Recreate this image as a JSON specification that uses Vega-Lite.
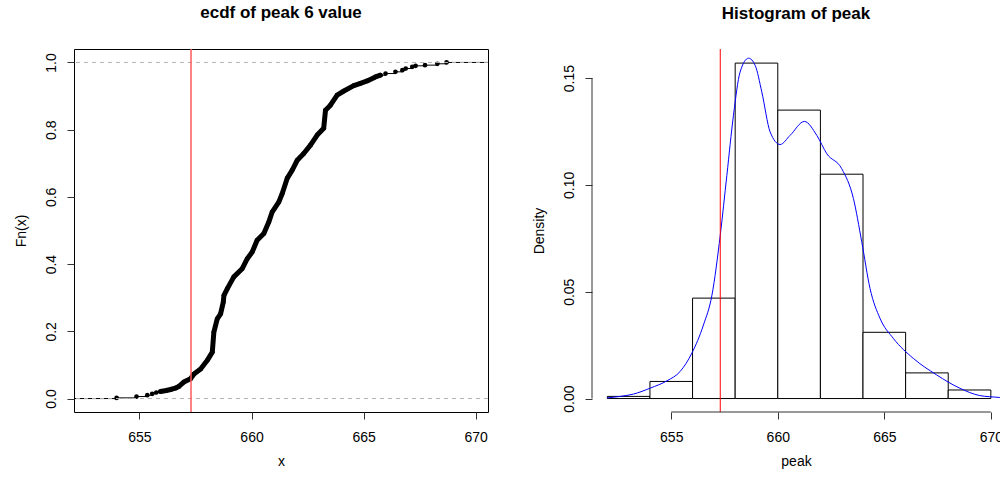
{
  "$schema": "https://vega.github.io/schema/vega-lite/v6.json",
  "padding": {"left": 13, "top": 3, "right": 0, "bottom": 0},
  "background": "white",
  "spacing": 43,
  "datasets": {
    "ecdf": [
      {"x": 653.98, "F": 0.002}, {"x": 654.87, "F": 0.006}, {"x": 655.35, "F": 0.010}, {"x": 655.57, "F": 0.014},
      {"x": 655.75, "F": 0.018}, {"x": 655.94, "F": 0.021}, {"x": 656.2, "F": 0.024}, {"x": 656.39, "F": 0.027},
      {"x": 656.6, "F": 0.031}, {"x": 656.76, "F": 0.036}, {"x": 656.98, "F": 0.049}, {"x": 657.28, "F": 0.059},
      {"x": 657.43, "F": 0.073}, {"x": 657.73, "F": 0.088}, {"x": 658.02, "F": 0.113}, {"x": 658.25, "F": 0.138},
      {"x": 658.32, "F": 0.198}, {"x": 658.47, "F": 0.237}, {"x": 658.62, "F": 0.252}, {"x": 658.74, "F": 0.287},
      {"x": 658.77, "F": 0.307}, {"x": 658.92, "F": 0.327}, {"x": 659.21, "F": 0.362}, {"x": 659.58, "F": 0.386},
      {"x": 659.81, "F": 0.416}, {"x": 660.03, "F": 0.436}, {"x": 660.25, "F": 0.471}, {"x": 660.55, "F": 0.491},
      {"x": 660.77, "F": 0.525}, {"x": 660.92, "F": 0.555}, {"x": 661.22, "F": 0.585}, {"x": 661.37, "F": 0.610},
      {"x": 661.59, "F": 0.655}, {"x": 661.81, "F": 0.679}, {"x": 662.04, "F": 0.709}, {"x": 662.33, "F": 0.729},
      {"x": 662.63, "F": 0.754}, {"x": 662.93, "F": 0.784}, {"x": 663.22, "F": 0.804}, {"x": 663.30, "F": 0.858},
      {"x": 663.52, "F": 0.873}, {"x": 663.82, "F": 0.903}, {"x": 664.12, "F": 0.915}, {"x": 664.56, "F": 0.931},
      {"x": 664.86, "F": 0.938}, {"x": 665.16, "F": 0.945}, {"x": 665.53, "F": 0.957}, {"x": 665.75, "F": 0.962},
      {"x": 665.98, "F": 0.967}, {"x": 666.42, "F": 0.972}, {"x": 666.73, "F": 0.977}, {"x": 666.88, "F": 0.982},
      {"x": 667.17, "F": 0.987}, {"x": 667.32, "F": 0.990}, {"x": 667.74, "F": 0.992}, {"x": 668.29, "F": 0.996},
      {"x": 668.70, "F": 1.0}
    ],
    "hist": [
      {"start": 652, "end": 654, "density": 0.001},
      {"start": 654, "end": 656, "density": 0.008},
      {"start": 656, "end": 658, "density": 0.047},
      {"start": 658, "end": 660, "density": 0.157},
      {"start": 660, "end": 662, "density": 0.135},
      {"start": 662, "end": 664, "density": 0.105},
      {"start": 664, "end": 666, "density": 0.031},
      {"start": 666, "end": 668, "density": 0.012},
      {"start": 668, "end": 670, "density": 0.004}
    ],
    "dens": [
      {"x": 651.99, "d": 0.0003}, {"x": 652.61, "d": 0.001}, {"x": 653.23, "d": 0.0021}, {"x": 654.02, "d": 0.0049},
      {"x": 654.80, "d": 0.0083}, {"x": 655.42, "d": 0.0127}, {"x": 655.97, "d": 0.0213}, {"x": 656.51, "d": 0.0344},
      {"x": 656.91, "d": 0.0484}, {"x": 657.30, "d": 0.0765}, {"x": 657.61, "d": 0.1045}, {"x": 657.92, "d": 0.1326},
      {"x": 658.23, "d": 0.1528}, {"x": 658.63, "d": 0.1593}, {"x": 658.94, "d": 0.1559}, {"x": 659.25, "d": 0.1435},
      {"x": 659.64, "d": 0.1248}, {"x": 660.11, "d": 0.1189}, {"x": 660.58, "d": 0.1232}, {"x": 661.25, "d": 0.1297},
      {"x": 661.83, "d": 0.1232}, {"x": 662.30, "d": 0.1146}, {"x": 663.0, "d": 0.1076}, {"x": 663.55, "d": 0.0936},
      {"x": 663.94, "d": 0.0734}, {"x": 664.33, "d": 0.0515}, {"x": 664.80, "d": 0.0375}, {"x": 665.42, "d": 0.0282},
      {"x": 666.36, "d": 0.0188}, {"x": 667.45, "d": 0.0111}, {"x": 668.55, "d": 0.0048}, {"x": 669.48, "d": 0.0014},
      {"x": 670.42, "d": 0.0005}, {"x": 670.75, "d": 0.0002}
    ],
    "hlines": [{"h": 0}, {"h": 1}]
  },
  "config": {
    "font": "Liberation Sans",
    "view": {"stroke": null},
    "axis": {
      "labelFont": "Liberation Sans", "titleFont": "Liberation Sans",
      "labelFontSize": 14, "titleFontSize": 14, "titleFontWeight": "normal",
      "labelColor": "black", "titleColor": "black",
      "tickColor": "#333", "tickSize": 7, "tickWidth": 1,
      "domain": false, "grid": false
    },
    "axisY": {"labelAngle": -90, "labelAlign": "center", "labelBaseline": "bottom", "labelPadding": 9, "titlePadding": 16},
    "axisX": {"labelPadding": 11, "titlePadding": 10},
    "title": {"fontSize": 17, "fontWeight": "bold", "font": "Liberation Sans", "color": "black", "offset": 26}
  },
  "hconcat": [
    {
      "width": 414,
      "height": 363,
      "view": {"stroke": "black", "strokeWidth": 1},
      "title": {"text": "ecdf of peak 6 value"},
      "layer": [
        {
          "data": {"name": "ecdf"},
          "transform": [{"filter": "datum.F <= 0.03"}],
          "mark": {"type": "line", "interpolate": "step-after", "color": "black", "strokeWidth": 1},
          "encoding": {
            "x": {"field": "x", "type": "quantitative", "title": "x",
                  "scale": {"domain": [652.08, 670.55], "nice": false, "zero": false},
                  "axis": {"values": [655, 660, 665, 670]}},
            "y": {"field": "F", "type": "quantitative", "title": "Fn(x)",
                  "scale": {"domain": [-0.04, 1.04], "nice": false, "zero": false},
                  "axis": {"values": [0, 0.2, 0.4, 0.6, 0.8, 1.0], "format": ".1f"}}
          }
        },
        {
          "data": {"name": "ecdf"},
          "transform": [{"filter": "datum.F >= 0.955"}],
          "mark": {"type": "line", "interpolate": "step-after", "color": "black", "strokeWidth": 1},
          "encoding": {
            "x": {"field": "x", "type": "quantitative"},
            "y": {"field": "F", "type": "quantitative"}
          }
        },
        {
          "data": {"name": "ecdf"},
          "transform": [{"filter": "datum.F >= 0.02 && datum.F <= 0.965"}],
          "mark": {"type": "line", "color": "black", "strokeWidth": 5, "strokeCap": "round", "strokeJoin": "round"},
          "encoding": {
            "x": {"field": "x", "type": "quantitative"},
            "y": {"field": "F", "type": "quantitative"}
          }
        },
        {
          "data": {"name": "ecdf"},
          "mark": {"type": "point", "filled": true, "color": "black", "size": 22, "opacity": 1},
          "encoding": {
            "x": {"field": "x", "type": "quantitative"},
            "y": {"field": "F", "type": "quantitative"}
          }
        },
        {
          "data": {"values": [{}]},
          "mark": {"type": "rule", "color": "black", "strokeWidth": 1},
          "encoding": {
            "x": {"datum": 652.08, "type": "quantitative"},
            "x2": {"datum": 653.98},
            "y": {"datum": 0, "type": "quantitative"}
          }
        },
        {
          "data": {"values": [{}]},
          "mark": {"type": "rule", "color": "black", "strokeWidth": 1},
          "encoding": {
            "x": {"datum": 668.70, "type": "quantitative"},
            "x2": {"datum": 670.55},
            "y": {"datum": 1, "type": "quantitative"}
          }
        },
        {
          "data": {"name": "hlines"},
          "mark": {"type": "rule", "color": "#b3b3b3", "strokeWidth": 1, "strokeDash": [4, 4]},
          "encoding": {"y": {"field": "h", "type": "quantitative"}}
        },
        {
          "data": {"values": [{}]},
          "mark": {"type": "rule", "color": "#ff5a5a", "strokeWidth": 1.5},
          "encoding": {"x": {"datum": 657.3, "type": "quantitative"}}
        }
      ]
    },
    {
      "width": 408,
      "height": 363,
      "title": {"text": "Histogram of peak"},
      "layer": [
        {
          "data": {"name": "hist"},
          "mark": {"type": "rect", "fill": "white", "stroke": "black", "strokeWidth": 1},
          "encoding": {
            "x": {"field": "start", "type": "quantitative", "title": "peak",
                  "scale": {"domain": [651.28, 670.43], "nice": false, "zero": false},
                  "axis": {"values": [655, 660, 665, 670]}},
            "x2": {"field": "end"},
            "y": {"field": "density", "type": "quantitative", "title": "Density",
                  "scale": {"domain": [-0.0063, 0.1636], "nice": false, "zero": false},
                  "axis": {"values": [0, 0.05, 0.1, 0.15], "format": ".2f"}},
            "y2": {"datum": 0}
          }
        },
        {
          "data": {"name": "dens"},
          "mark": {"type": "line", "color": "#0000ff", "strokeWidth": 1, "clip": true, "interpolate": "monotone"},
          "encoding": {
            "x": {"field": "x", "type": "quantitative"},
            "y": {"field": "d", "type": "quantitative"}
          }
        },
        {
          "data": {"values": [{}]},
          "mark": {"type": "rule", "color": "red", "strokeWidth": 1},
          "encoding": {"x": {"datum": 657.3, "type": "quantitative"}}
        },
        {
          "data": {"values": [{}]},
          "mark": {"type": "rule", "color": "#333", "strokeWidth": 1},
          "encoding": {
            "x": {"datum": 655, "type": "quantitative"},
            "x2": {"datum": 670},
            "y": {"datum": -0.0063, "type": "quantitative"}
          }
        },
        {
          "data": {"values": [{}]},
          "mark": {"type": "rule", "color": "#333", "strokeWidth": 1},
          "encoding": {
            "x": {"datum": 651.28, "type": "quantitative"},
            "y": {"datum": 0, "type": "quantitative"},
            "y2": {"datum": 0.15}
          }
        }
      ]
    }
  ]
}
